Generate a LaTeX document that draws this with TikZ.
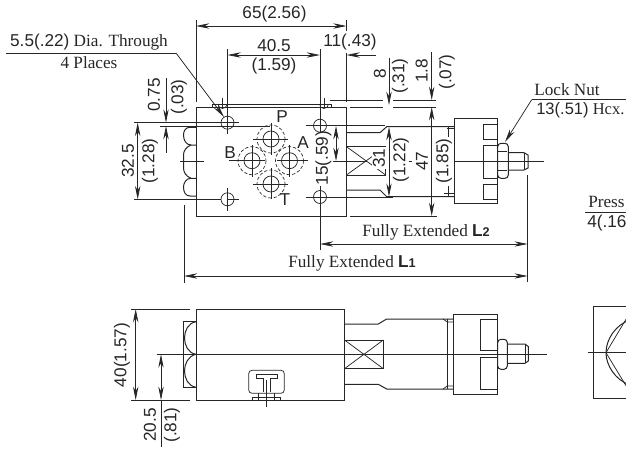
\documentclass[tikz,border=0pt]{standalone}
\usepackage{fontspec}
\setmainfont{Liberation Serif}
\setsansfont{Liberation Sans}
\usetikzlibrary{arrows.meta}
\definecolor{inkgray}{rgb}{0.15,0.15,0.15}
\tikzset{
  outline/.style={color=inkgray,line width=0.75pt},
  thinline/.style={color=inkgray,line width=0.55pt},
  dimline/.style={color=inkgray,line width=0.55pt,{Stealth[length=10pt,width=4pt]}-{Stealth[length=10pt,width=4pt]}},
  dimtip/.style={color=inkgray,line width=0.55pt,-{Stealth[length=10pt,width=4pt]}},
  hidden/.style={color=inkgray,line width=0.5pt,dash pattern={on 2.5pt off 1.5pt}},
  numtext/.style={color=inkgray,inner sep=0.75pt,font=\fontsize{12.9}{14}\selectfont\sffamily,align=center},
  wordtext/.style={color=inkgray,inner sep=0.75pt,font=\fontsize{12.9}{14}\selectfont\rmfamily,align=center},
}
\newcommand{\bigL}[1]{\textsf{\bfseries L\fontsize{9.5}{10}\selectfont #1}}
\begin{document}
\begin{tikzpicture}[x=0.75pt,y=0.75pt,yscale=-1,xscale=1]
    \useasboundingbox (0,0) rectangle (626,450);
    \clip (0,0) rectangle (626,450);

    %Shape: Rectangle (top view body)
    \draw [outline] (196,107) rectangle (346.5,216);
    \draw [thinline] (212,107) -- (212,104) -- (331,104) -- (331,107);
    \draw [thinline] (218,104) arc (180:0:4.5);
    \draw [thinline] (319.5,104) arc (180:0:4.5);
    \draw [thinline] (222.5,98) -- (222.5,107);
    \draw [thinline] (324,98) -- (324,107);

    %Shape: Circle (mounting holes)
    \draw [thinline] (227.5,122.7) circle (6.5);
    \draw [thinline] (227.5,199.3) circle (6.5);
    \draw [thinline] (320,125.7) circle (6.5);
    \draw [thinline] (320,197) circle (6.5);
    \draw [thinline] (215,122.7) -- (239,122.7);
    \draw [thinline] (227.5,199.3) -- (239,199.3);
    \draw [thinline] (227.5,111) -- (227.5,134);
    \draw [thinline] (227.5,188) -- (227.5,211);
    \draw [thinline] (306,125.7) -- (385,125.7);
    \draw [thinline] (306,197) -- (393,197);
    \draw [thinline] (320,114) -- (320,133);
    \draw [thinline] (320,186) -- (320,209);

    %Shape: Circle (ports)
    \draw [thinline] (271,139) circle (8);
    \draw [thinline] (252,160.7) circle (8);
    \draw [thinline] (289.5,160.7) circle (8);
    \draw [thinline] (271,184) circle (8);
    \draw [hidden] (271,139) circle (14);
    \draw [hidden] (252,160.7) circle (14);
    \draw [hidden] (289.5,160.7) circle (14);
    \draw [hidden] (271,184) circle (14);
    \draw [thinline] (253,139) -- (288,139);
    \draw [thinline] (271,123) -- (271,155);
    \draw [thinline] (229,160.7) -- (265,160.7);
    \draw [thinline] (252,145) -- (252,177);
    \draw [thinline] (277,160.7) -- (308,160.7);
    \draw [thinline] (289.5,145) -- (289.5,177);
    \draw [thinline] (253,184) -- (288,184);
    \draw [thinline] (271,168) -- (271,199);

    %Shape: Free Drawing (plug, top view)
    \draw [outline] (196,127.3) -- (190,127.3) .. controls (185.5,127.3) and (183.5,131) .. (183.5,135) .. controls (183.5,140) and (186,145) .. (191,145) -- (196,145);
    \draw [outline] (191,145) .. controls (186,147) and (183.5,151) .. (183.5,155) -- (183.5,168) .. controls (183.5,172) and (186,176.5) .. (191,178.3) -- (196,178.3);
    \draw [outline] (191,178.3) .. controls (186,178.3) and (183.5,183) .. (183.5,187) .. controls (183.5,192) and (185.5,196) .. (190,196) -- (196,196);
    \draw [thinline] (180,161) -- (204,161);

    %Shape: Free Drawing (neck, top view)
    \draw [outline] (346.5,132.7) -- (380,132.7) -- (386.7,126.7) -- (454,126.7);
    \draw [outline] (346.5,190) -- (380,190) -- (386.7,196.7) -- (454,196.7);
    \draw [thinline] (346.5,146.7) rectangle (385.7,175);
    \draw [thinline] (346.5,146.7) -- (385.7,175);
    \draw [thinline] (346.5,175) -- (385.7,146.7);
    \draw [thinline] (333,161) -- (367,161);
    \draw [thinline] (448,127) -- (448,137);
    \draw [thinline] (448,186) -- (448,196.7);
    \draw [thinline] (447,128) -- (454,128);
    \draw [thinline] (444,193) -- (454,193);
    \draw [thinline] (408.5,161) -- (411.5,161);

    %Shape: Rectangle (cap, top view)
    \draw [outline] (454,118.3) rectangle (497.7,203.3);
    \draw [outline] (497.7,124) -- (483.3,124) -- (483.3,139.3) -- (497.7,139.3);
    \draw [outline] (497.7,145) -- (483.3,145) -- (483.3,178.3) -- (497.7,178.3);
    \draw [outline] (497.7,184) -- (483.3,184) -- (483.3,199) -- (497.7,199);
    \draw [outline,rounded corners=2.5] (497.7,143.3) rectangle (508.3,178.3);
    \draw [thinline] (497.7,151.7) -- (507,151.7);
    \draw [thinline] (497.7,170) -- (507,170);
    \draw [outline] (508.3,152.7) -- (524,152.7) -- (528,155) -- (528,168) -- (524,170) -- (508.3,170);
    \draw [thinline] (524,152.7) -- (524,170);
    \draw [thinline] (454,161) -- (544,161);

    %Shape: Rectangle (bottom view body)
    \draw [outline] (196,309) rectangle (344.5,400);
    \draw [thinline] (183.7,321.7) rectangle (196,387.3);
    \draw [outline] (196,321.7) .. controls (188,323) and (184.5,331) .. (184.5,338) .. controls (184.5,345) and (188,353) .. (196,354.3);
    \draw [outline] (196,354.3) .. controls (188,356) and (184.5,364) .. (184.5,371) .. controls (184.5,378) and (188,386) .. (196,387.3);
    \draw [thinline,line width=0.7pt] (156.7,354.3) -- (546.7,354.3);

    %Shape: Free Drawing (T mark)
    \draw [thinline,rounded corners=2.5] (248.7,370.3) rectangle (284.3,393.3);
    \draw [thinline] (263.5,391.7) -- (263.5,378.3) -- (256.7,378.3) -- (256.7,374) -- (277.3,374) -- (277.3,378.3) -- (270.3,378.3) -- (270.3,391.7);
    \draw [thinline] (266.3,380) -- (266.3,407.3);
    \draw [thinline] (252.7,400) -- (252.7,397.3) -- (280.7,397.3) -- (280.7,400);
    \draw [thinline] (258.3,393.3) -- (258.3,400);
    \draw [thinline] (274.3,393.3) -- (274.3,400);

    %Shape: Free Drawing (neck, bottom view)
    \draw [outline] (344.5,324) -- (378.3,324) -- (386.7,319) -- (453.3,319);
    \draw [outline] (344.5,384.3) -- (378.3,384.3) -- (386.7,389) -- (453.3,389);
    \draw [thinline] (344.5,340) rectangle (383.3,368.7);
    \draw [thinline] (344.5,340) -- (383.3,368.7);
    \draw [thinline] (344.5,368.7) -- (383.3,340);
    \draw [thinline] (447.3,319) -- (447.3,389);
    \draw [thinline] (443,319) -- (447.3,322) -- (453.3,322);
    \draw [thinline] (443,389) -- (447.3,386) -- (453.3,386);

    %Shape: Rectangle (cap, bottom view)
    \draw [outline] (453.3,314.3) rectangle (497.7,394.3);
    \draw [outline] (497.7,319.3) -- (480.7,319.3) -- (480.7,350.7) -- (497.7,350.7);
    \draw [outline] (497.7,357.7) -- (480.7,357.7) -- (480.7,389.3) -- (497.7,389.3);
    \draw [outline,rounded corners=2.5] (497.7,339.3) rectangle (507.3,369.3);
    \draw [outline] (507.3,344) -- (525,344) -- (528.3,346.5) -- (528.3,361) -- (525,363.3) -- (507.3,363.3);
    \draw [thinline] (525,344) -- (525,363.3);

    %Shape: Rectangle (end view)
    \draw [outline] (593.3,306) rectangle (640,398.7);
    \draw [outline] (630,320) .. controls (615,325) and (606,340) .. (606,352.7) .. controls (606,365) and (615,380) .. (630,385);
    \draw [thinline] (606,352.7) -- (628,316);
    \draw [thinline] (606,352.7) -- (628,389);
    \draw [thinline] (588,352.7) -- (640,352.7);

    %Straight Lines (extension lines)
    \draw [thinline] (196,20) -- (196,102);
    \draw [thinline] (346.5,20) -- (346.5,31);
    \draw [thinline] (346.5,53) -- (346.5,102);
    \draw [thinline] (227.5,49) -- (227.5,111);
    \draw [thinline] (320,49) -- (320,114);
    \draw [thinline] (134,122.7) -- (221,122.7);
    \draw [thinline] (160,126) -- (270,126);
    \draw [thinline] (134,199.3) -- (221,199.3);
    \draw [thinline] (330,100) -- (383,100);
    \draw [thinline] (393,100) -- (436,100);
    \draw [thinline] (350,107) -- (383,107);
    \draw [thinline] (393,107) -- (436,107);
    \draw [thinline] (350,216) -- (437,216);
    \draw [thinline] (320,209) -- (320,250);
    \draw [thinline] (527.7,175) -- (527.7,282);
    \draw [thinline] (184,205) -- (184,283);
    \draw [thinline] (131,309) -- (190,309);
    \draw [thinline] (131,400) -- (190,400);

    %Straight Lines (dimension lines)
    \draw [dimline] (196,26) -- (346.5,26);
    \draw [dimline] (227.5,55) -- (320,55);
    \draw [dimtip] (376,55) -- (346.5,55);
    \draw [dimtip] (166,78) -- (166,122.7);
    \draw [dimtip] (166,153) -- (166,126);
    \draw [dimline] (137.7,122.7) -- (137.7,199.3);
    \draw [dimline] (336,126) -- (336,161);
    \draw [dimtip] (389,58) -- (389,105);
    \draw [dimline] (389,127) -- (389,196.7);
    \draw [dimtip] (431.7,52) -- (431.7,100);
    \draw [dimline] (431.7,107) -- (431.7,216);
    \draw [dimline] (320,244) -- (527.7,244);
    \draw [dimline] (184,276) -- (527.7,276);
    \draw [dimline] (135.7,309) -- (135.7,400);
    \draw [dimline] (161,354.3) -- (161,400);
    \draw [thinline] (161,400) -- (161,446.7);

    %Straight Lines (leaders)
    \draw [thinline] (6,53) -- (176,53);
    \draw [dimtip] (176,53) -- (224,117);
    \draw [thinline] (626,99.7) -- (531.7,99.7);
    \draw [dimtip] (531.7,99.7) -- (505,142);
    \draw [thinline] (585,212) -- (626,212);

    % Text Node
    \draw (274.5,14) node (dimWide) [numtext] {65(2.56)};
    \draw (274,46) node (dimPitch) [numtext] {40.5};
    \draw (274,66) node (dimPitchIn) [numtext] {(1.59)};
    \draw (350,42) node (dimEdge) [numtext] {11(.43)};
    \draw (89,42) node (holeNote) [wordtext] {\textsf{5.5(.22)} Dia. Through};
    \draw (89,63) node (holeCount) [wordtext] {4 Places};
    \draw (154,95) node (dimGap) [numtext,rotate=90] {0.75};
    \draw (179,97) node (dimGapIn) [numtext,rotate=90] {(.03)};
    \draw (128,161) node (dimHoles) [numtext,rotate=90] {32.5};
    \draw (150,161) node (dimHolesIn) [numtext,rotate=90] {(1.28)};
    \draw (282,117) node (portP) [numtext] {P};
    \draw (303,143) node (portA) [numtext] {A};
    \draw (230,153) node (portB) [numtext] {B};
    \draw (285,200) node (portT) [numtext] {T};
    \draw (323.5,158) node (dimOffset) [numtext,rotate=90] {15(.59)};
    \draw (380,74) node (dimLift) [numtext,rotate=90] {8};
    \draw (400,76) node (dimLiftIn) [numtext,rotate=90] {(.31)};
    \draw (421.7,71) node (dimTop) [numtext,rotate=90] {1.8};
    \draw (447,72) node (dimTopIn) [numtext,rotate=90] {(.07)};
    \draw (379,158) node (dimNeck) [numtext,rotate=90,fill=white] {31};
    \draw (401,160) node (dimNeckIn) [numtext,rotate=90] {(1.22)};
    \draw (422,161) node (dimHigh) [numtext,rotate=90] {47};
    \draw (444,161) node (dimHighIn) [numtext,rotate=90] {(1.85)};
    \draw (567,90) node (lockNote) [wordtext] {Lock Nut};
    \draw (535,110) node (lockSize) [wordtext,anchor=west,font=\fontsize{12.4}{14}\selectfont\rmfamily] {\textsf{13(.51)} Hcx.};
    \draw (587,202) node (pressNote) [wordtext,anchor=west] {Press};
    \draw (586,223) node (pressSize) [numtext,anchor=west] {4(.16};
    \draw (426,232) node (lengthTwo) [wordtext] {Fully Extended \bigL{2}};
    \draw (352,263) node (lengthOne) [wordtext] {Fully Extended \bigL{1}};
    \draw (122,355) node (dimDepth) [numtext,rotate=90] {40(1.57)};
    \draw (150,425) node (dimCentre) [numtext,rotate=90] {20.5};
    \draw (172,425) node (dimCentreIn) [numtext,rotate=90] {(.81)};
\end{tikzpicture}
\end{document}
